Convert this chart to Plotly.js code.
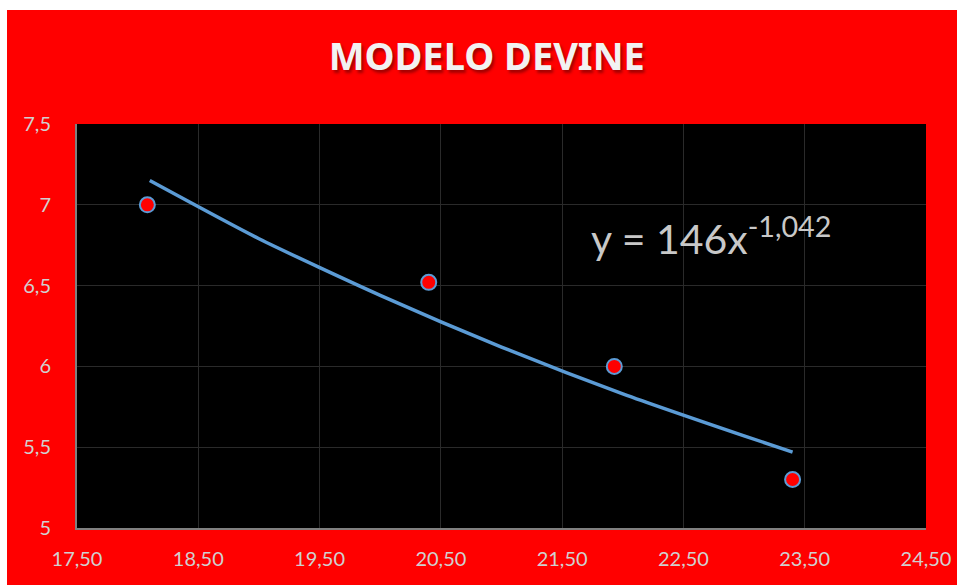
<!DOCTYPE html>
<html>
<head>
<meta charset="utf-8">
<script src="https://cdn.plot.ly/plotly-3.0.1.min.js"></script>
<style>
  html, body { margin: 0; padding: 0; background: #ffffff; width: 957px; height: 585px; overflow: hidden; }
  #chart { position: absolute; left: 7px; top: 10px; width: 950px; height: 575px; }
</style>
</head>
<body>
<div id="chart"></div>
<script>
// Observed data points
const pointX = [18.08, 20.4, 21.93, 23.4];
const pointY = [7.0, 6.52, 6.0, 5.3];

// Trendline (power fit)
const trendX = [18.1, 19, 20, 21, 22, 23, 23.4];
const trendY = [7.15, 6.79, 6.44, 6.12, 5.83, 5.57, 5.47];

const xTicks = [17.5, 18.5, 19.5, 20.5, 21.5, 22.5, 23.5, 24.5];
const yTicks = [5, 5.5, 6, 6.5, 7, 7.5];

const titleText = 'MODELO DEVINE';
const equationText = 'y = 146x<sup>-1,042</sup>';

const traces = [
  {
    x: trendX, y: trendY, type: 'scatter', mode: 'lines',
    line: { color: '#5b9bd5', width: 3.5, shape: 'spline', smoothing: 0.6 },
    hoverinfo: 'skip', showlegend: false
  },
  {
    x: pointX, y: pointY, type: 'scatter', mode: 'markers',
    marker: { color: '#ff0000', size: 15, line: { color: '#5b9bd5', width: 2 } },
    showlegend: false
  }
];

const tickFont = { family: 'Lato, "Open Sans", sans-serif', size: 20, color: '#d0d0d0' };

const layout = {
  width: 950, height: 575,
  paper_bgcolor: '#ff0000',
  plot_bgcolor: '#000000',
  separators: ',.',
  margin: { l: 70, r: 31, t: 114, b: 57 },
  title: {
    text: titleText,
    x: 0.505, xanchor: 'center', xref: 'container',
    y: 1, yref: 'container', yanchor: 'top', pad: { t: 33 },
    font: { family: '"Noto Sans", "Open Sans", sans-serif', size: 38, color: '#f2f2f2', weight: 'bold',
            shadow: '2px 3px 3px rgba(100,0,0,0.6)' }
  },
  xaxis: {
    range: [17.5, 24.5], tickvals: xTicks, tickformat: '.2f',
    showgrid: true, gridcolor: '#2a2a2a', gridwidth: 1,
    showline: true, linecolor: '#808080', linewidth: 2,
    zeroline: false, ticks: '', tickfont: tickFont, ticklabelstandoff: 12
  },
  yaxis: {
    range: [5, 7.5], tickvals: yTicks,
    showgrid: true, gridcolor: '#2a2a2a', gridwidth: 1,
    showline: true, linecolor: '#808080', linewidth: 2,
    zeroline: false, ticks: '', tickfont: tickFont, ticklabelstandoff: 20
  },
  annotations: [
    {
      x: 21.72, y: 6.81, xref: 'x', yref: 'y', xanchor: 'left', yanchor: 'middle',
      text: equationText, showarrow: false,
      font: { family: 'Lato, "Open Sans", sans-serif', size: 41, color: '#c8c8c8' }
    }
  ]
};

Plotly.newPlot('chart', traces, layout, { displayModeBar: false, staticPlot: true });
</script>
</body>
</html>
